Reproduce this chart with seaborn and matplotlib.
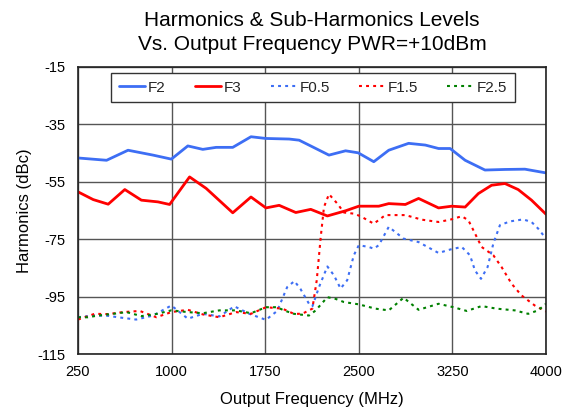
import matplotlib
matplotlib.use("Agg")
import matplotlib.pyplot as plt
import numpy as np
import pandas as pd
import seaborn as sns

# Harmonic levels (dBc) vs. output frequency (MHz)
f2_freq = [250, 479, 651, 851, 998, 1130, 1250, 1357, 1490, 1636, 1756, 1942,
           2022, 2128, 2261, 2394, 2495, 2620, 2740, 2899, 3033, 3139, 3232,
           3352, 3511, 3671, 3831, 4000]
f2_db = [-46.7, -47.5, -44.0, -45.7, -47.1, -42.5, -43.7, -43.0, -43.0, -39.3,
         -39.9, -40.1, -40.5, -42.8, -45.7, -44.2, -44.9, -48.0, -44.0, -41.6,
         -42.2, -43.4, -43.4, -47.5, -50.9, -50.7, -50.6, -51.9]

f3_freq = [250, 372, 492, 625, 758, 891, 984, 1144, 1277, 1490, 1636, 1756,
           1862, 1995, 2115, 2248, 2394, 2500, 2660, 2740, 2873, 2979, 3139,
           3245, 3352, 3458, 3564, 3671, 3777, 3884, 4000]
f3_db = [-58.5, -61.2, -62.8, -57.7, -61.4, -62.0, -62.9, -53.3, -57.3, -65.8,
         -60.3, -64.1, -63.2, -65.7, -64.6, -66.9, -65.1, -63.5, -63.5, -62.6,
         -62.9, -60.8, -64.1, -63.5, -63.8, -59.1, -56.2, -55.6, -57.7, -61.4,
         -66.3]

f05_freq = [250, 372, 492, 571, 716, 851, 998, 1130, 1250, 1383, 1503, 1623,
            1756, 1846, 1926, 1984, 2032, 2101, 2128, 2181, 2248, 2301, 2354,
            2407, 2460, 2500, 2580, 2620, 2660, 2740, 2859, 2979, 3139, 3232,
            3325, 3391, 3431, 3479, 3532, 3578, 3631, 3711, 3817, 3884, 3937,
            4000]
f05_db = [-102.2, -101.6, -101.7, -102.2, -103.0, -101.6, -98.1, -102.7,
          -101.0, -101.9, -98.4, -101.0, -103.1, -100.0, -91.7, -89.6, -92.3,
          -97.5, -98.4, -91.7, -84.5, -87.6, -92.2, -89.3, -80.6, -77.1, -77.7,
          -78.3, -77.1, -70.7, -74.8, -76.0, -79.8, -78.6, -77.7, -80.6, -85.9,
          -88.8, -84.7, -76.5, -70.1, -68.8, -68.1, -69.0, -71.3, -74.8]

f15_freq = [250, 383, 492, 612, 745, 878, 998, 1130, 1250, 1383, 1516, 1636,
            1756, 1888, 1980, 2046, 2128, 2163, 2195, 2221, 2261, 2328, 2381,
            2460, 2514, 2620, 2713, 2873, 3006, 3139, 3232, 3325, 3378, 3431,
            3484, 3578, 3644, 3724, 3804, 3910, 4000]
f15_db = [-103.0, -101.0, -101.1, -100.4, -100.0, -102.2, -100.4, -99.6,
          -101.2, -102.2, -100.4, -101.0, -98.7, -99.2, -101.0, -101.0, -99.2,
          -89.3, -74.2, -63.8, -59.3, -62.6, -65.7, -66.1, -67.0, -69.6, -66.6,
          -66.6, -68.2, -69.0, -68.2, -67.0, -68.4, -73.0, -77.7, -80.6, -84.7,
          -90.5, -94.6, -98.1, -100.2]

f25_freq = [250, 330, 410, 532, 638, 758, 864, 998, 1130, 1250, 1383, 1516,
            1636, 1756, 1846, 1900, 1980, 2101, 2155, 2248, 2314, 2381, 2500,
            2633, 2740, 2859, 2979, 3139, 3258, 3365, 3484, 3604, 3750, 3857,
            3937, 4000]
f25_db = [-102.2, -102.2, -101.6, -101.0, -100.4, -101.8, -101.2, -99.8,
          -100.4, -100.8, -99.8, -99.8, -100.8, -98.7, -98.7, -99.8, -101.0,
          -101.6, -99.8, -95.2, -95.8, -96.9, -97.7, -99.2, -99.8, -95.4, -99.6,
          -97.5, -98.7, -100.0, -98.3, -99.2, -99.8, -101.0, -99.8, -97.5]

x_ticks = [250, 1000, 1750, 2500, 3250, 4000]
y_ticks = [-15, -35, -55, -75, -95, -115]

sns.set_theme(style="white")
plt.rcParams["font.family"] = ["Liberation Sans", "DejaVu Sans"]
plt.rcParams["axes.unicode_minus"] = False

fig = plt.figure(figsize=(5.62, 4.08), dpi=100)
ax = fig.add_axes([78 / 562, 1 - 354 / 408, 468 / 562, 287 / 408])

dotted = (0, (1.4, 2.0))
series = [
    ("F2", f2_freq, f2_db, "#3D6EF4", "-", 2.0),
    ("F3", f3_freq, f3_db, "#FF0000", "-", 2.0),
    ("F0.5", f05_freq, f05_db, "#3D6EF4", dotted, 1.5),
    ("F1.5", f15_freq, f15_db, "#FF0000", dotted, 1.5),
    ("F2.5", f25_freq, f25_db, "#008000", dotted, 1.5),
]

for name, fr, db, color, ls, lw in series:
    df = pd.DataFrame({"freq": fr, "db": db})
    sns.lineplot(data=df, x="freq", y="db", ax=ax, color=color, linestyle=ls,
                 linewidth=lw, label=name, sort=False, estimator=None,
                 dash_capstyle="butt", solid_joinstyle="round",
                 solid_capstyle="round")

ax.set_xlim(250, 4000)
ax.set_ylim(-115, -15)
ax.set_xticks(x_ticks)
ax.set_yticks(y_ticks)
ax.tick_params(axis="both", direction="out", length=3, width=1.0,
               color="#222222", labelsize=10.5, labelcolor="black")
ax.tick_params(axis="y", pad=6)
ax.tick_params(axis="x", pad=5)
ax.grid(True, color="#555555", linewidth=1.0)
for sp in ax.spines.values():
    sp.set_visible(True)
    sp.set_color("#222222")
    sp.set_linewidth(1.2)

ax.set_xlabel("Output Frequency (MHz)", fontsize=12, color="black", labelpad=9)
ax.set_ylabel("Harmonics (dBc)", fontsize=12, color="black", labelpad=4)
ax.set_title("Harmonics & Sub-Harmonics Levels\nVs. Output Frequency PWR=+10dBm",
             fontsize=15, color="black", pad=12, linespacing=1.35)

leg = ax.legend(loc="upper center", bbox_to_anchor=(0.502, 0.979), ncol=5,
                fontsize=11, handlelength=1.7, handletextpad=0.2,
                columnspacing=1.9, borderpad=0.5, fancybox=False,
                framealpha=1.0, edgecolor="#333333", borderaxespad=0)
leg.get_frame().set_linewidth(1.0)

fig.savefig("out.png", dpi=100)
